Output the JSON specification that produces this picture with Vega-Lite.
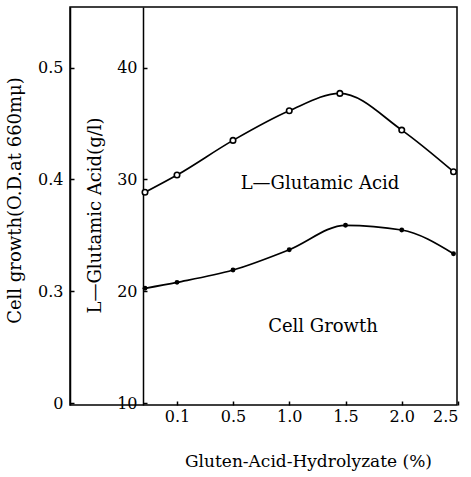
{
  "$schema": "https://vega.github.io/schema/vega-lite/v6.json",
  "width": 387,
  "height": 398,
  "autosize": {"type": "none"},
  "padding": {"left": 70, "top": 7, "right": 14, "bottom": 72},
  "background": "white",
  "config": {
    "font": "DejaVu Serif",
    "view": {"stroke": "black", "strokeWidth": 1.5},
    "axis": {
      "labelFont": "DejaVu Serif",
      "titleFont": "DejaVu Serif",
      "labelColor": "black",
      "titleColor": "black",
      "tickColor": "black",
      "domainColor": "black",
      "grid": false,
      "titleFontWeight": "normal",
      "labelFontSize": 16,
      "titleFontSize": 18,
      "tickWidth": 1.5,
      "domainWidth": 1.5
    }
  },
  "datasets": {
    "glu": [
      {"conc": 0, "acid": 28.85},
      {"conc": 0.1, "acid": 30.39},
      {"conc": 0.5, "acid": 33.49},
      {"conc": 1.0, "acid": 36.14},
      {"conc": 1.45, "acid": 37.69},
      {"conc": 2.0, "acid": 34.41},
      {"conc": 2.46, "acid": 30.69}
    ],
    "cell": [
      {"conc": 0, "od": 0.3027},
      {"conc": 0.1, "od": 0.308},
      {"conc": 0.5, "od": 0.319},
      {"conc": 1.0, "od": 0.3372},
      {"conc": 1.5, "od": 0.359},
      {"conc": 2.0, "od": 0.3548},
      {"conc": 2.46, "od": 0.3336}
    ],
    "labels": [
      {"conc": 1.273, "acid": 29.63, "text": "L—Glutamic Acid"},
      {"conc": 1.3, "acid": 16.85, "text": "Cell Growth"}
    ]
  },
  "encoding": {
    "x": {
      "field": "conc",
      "type": "quantitative",
      "scale": {"domain": [0, 0.1, 0.5, 2.5], "range": [75, 107, 163, 388], "nice": false, "zero": false},
      "axis": {
        "values": [0.1, 0.5, 1.0, 1.5, 2.0, 2.5],
        "format": ".1f",
        "domain": false,
        "tickSize": -4,
        "labelPadding": 7,
        "title": "Gluten-Acid-Hydrolyzate (%)",
        "titleFontSize": 17,
        "titleX": 238,
        "titleY": 61,
        "titleBaseline": "alphabetic",
        "titleAlign": "center"
      }
    }
  },
  "layer": [
    {
      "data": {"name": "cell"},
      "encoding": {
        "y": {
          "field": "od",
          "type": "quantitative",
          "scale": {"domain": [0.1984, 0.5541], "nice": false, "zero": false},
          "axis": {
            "orient": "left",
            "values": [0.2, 0.3, 0.4, 0.5],
            "labelExpr": "datum.value < 0.25 ? '0' : format(datum.value, '.1f')",
            "tickSize": -4,
            "labelPadding": 11,
            "title": "Cell growth(O.D.at 660mμ)",
            "titleX": -50,
            "titleY": 193,
            "titleAngle": -90,
            "titleAlign": "center",
            "titleBaseline": "alphabetic"
          }
        }
      },
      "layer": [
        {"mark": {"type": "line", "interpolate": "monotone", "color": "black", "strokeWidth": 1.7}},
        {"mark": {"type": "point", "shape": "circle", "filled": true, "color": "black", "size": 24, "opacity": 1}}
      ]
    },
    {
      "data": {"name": "glu"},
      "encoding": {
        "y": {
          "field": "acid",
          "type": "quantitative",
          "scale": {"domain": [9.84, 45.41], "nice": false, "zero": false},
          "axis": {
            "orient": "left",
            "offset": -73,
            "values": [10, 20, 30, 40],
            "tickSize": -4,
            "labelPadding": 10,
            "title": "L—Glutamic Acid(g/l)",
            "titleX": -43,
            "titleY": 208,
            "titleAngle": -90,
            "titleAlign": "center",
            "titleBaseline": "alphabetic"
          }
        }
      },
      "layer": [
        {"mark": {"type": "line", "interpolate": "monotone", "color": "black", "strokeWidth": 1.7}},
        {"mark": {"type": "point", "shape": "circle", "filled": true, "fill": "white", "stroke": "black", "strokeWidth": 1.6, "size": 30, "opacity": 1}}
      ]
    },
    {
      "data": {"name": "labels"},
      "mark": {"type": "text", "font": "DejaVu Serif", "fontSize": 18, "color": "black", "align": "center", "baseline": "middle"},
      "encoding": {
        "y": {
          "field": "acid",
          "type": "quantitative",
          "scale": {"domain": [9.84, 45.41], "nice": false, "zero": false},
          "axis": null
        },
        "text": {"field": "text"}
      }
    }
  ],
  "resolve": {"scale": {"y": "independent"}, "axis": {"y": "independent"}}
}
